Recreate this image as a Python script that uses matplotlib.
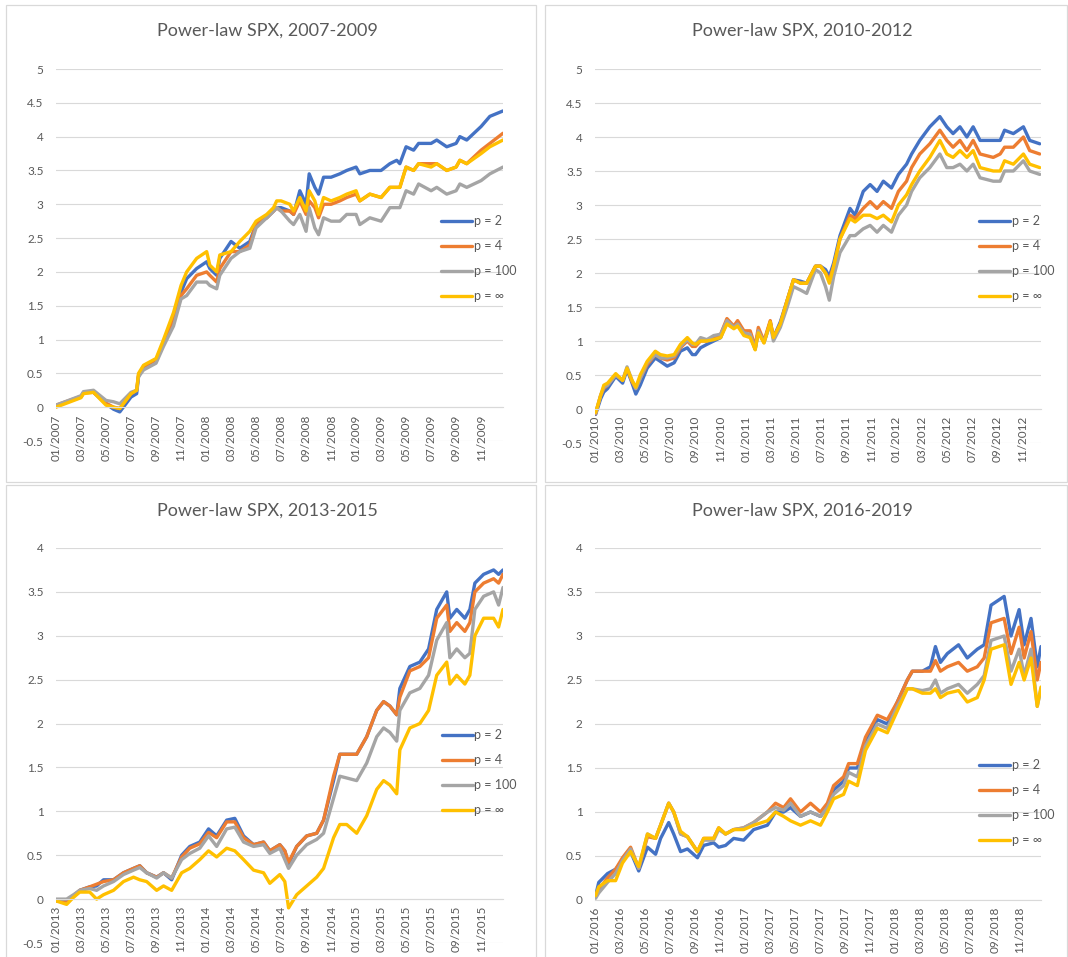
import matplotlib
matplotlib.use('Agg')
import matplotlib.pyplot as plt
from matplotlib.patches import Rectangle

plt.rcParams['font.family'] = ['Lato', 'DejaVu Sans']

# ---- data (x = months since start of period) ----
series_names = ['p = 2', 'p = 4', 'p = 100', 'p = \u221e']
series_colors = ['#4472C4', '#ED7D31', '#A5A5A5', '#FFC000']

t_0709 = [0, 2.0, 2.2, 3.0, 4.0, 4.6, 5.1, 6.0, 6.45, 6.6, 7.0, 8.0, 8.6, 9.4, 10.0, 10.45,
          11.25, 12.05, 12.3, 12.85, 13.1, 14.0, 14.7, 15.5, 16.0, 16.85, 17.4, 17.65, 18.0,
          18.7, 19.0, 19.5, 20.0, 20.25, 20.7, 21.0, 21.4, 22.0, 22.7, 23.25, 24.0, 24.3, 25.1,
          26.0, 26.7, 27.25, 27.5, 28.0, 28.6, 29.0, 30.0, 30.45, 31.25, 32.0, 32.3, 32.85,
          34.0, 34.7, 35.75]
p2_0709 = [0.02, 0.15, 0.22, 0.22, 0.05, -0.03, -0.07, 0.15, 0.2, 0.45, 0.6, 0.7, 0.95, 1.3, 1.7,
           1.9, 2.05, 2.15, 2.05, 1.95, 2.2, 2.45, 2.35, 2.45, 2.7, 2.8, 2.9, 2.95, 2.95, 2.9,
           2.85, 3.2, 3.0, 3.45, 3.25, 3.15, 3.4, 3.4, 3.45, 3.5, 3.55, 3.45, 3.5, 3.5, 3.6,
           3.65, 3.6, 3.85, 3.8, 3.9, 3.9, 3.95, 3.85, 3.9, 4.0, 3.95, 4.15, 4.3, 4.38]
p4_0709 = [0.03, 0.16, 0.21, 0.22, 0.06, 0.0, -0.02, 0.2, 0.25, 0.48, 0.6, 0.7, 0.95, 1.3, 1.65,
           1.75, 1.95, 2.0, 1.95, 1.85, 2.05, 2.3, 2.3, 2.4, 2.7, 2.8, 2.9, 2.95, 2.9, 2.9,
           2.85, 3.05, 2.85, 3.05, 2.95, 2.8, 3.0, 3.0, 3.05, 3.1, 3.15, 3.05, 3.15, 3.1, 3.25,
           3.25, 3.25, 3.55, 3.5, 3.6, 3.6, 3.6, 3.5, 3.55, 3.65, 3.6, 3.8, 3.9, 4.05]
p100_0709 = [0.03, 0.17, 0.23, 0.25, 0.1, 0.08, 0.05, 0.22, 0.25, 0.45, 0.55, 0.65, 0.9, 1.2, 1.6,
             1.65, 1.85, 1.85, 1.8, 1.75, 1.95, 2.2, 2.3, 2.35, 2.65, 2.8, 2.9, 2.95, 2.9, 2.75,
             2.7, 2.85, 2.6, 2.95, 2.65, 2.55, 2.8, 2.75, 2.75, 2.85, 2.85, 2.7, 2.8, 2.75, 2.95,
             2.95, 2.95, 3.2, 3.15, 3.3, 3.2, 3.25, 3.15, 3.2, 3.3, 3.25, 3.35, 3.45, 3.55]
pinf_0709 = [0.0, 0.14, 0.2, 0.22, 0.03, 0.0, -0.02, 0.2, 0.25, 0.5, 0.62, 0.72, 1.0, 1.4, 1.8,
             2.0, 2.2, 2.3, 2.1, 2.0, 2.25, 2.3, 2.45, 2.6, 2.75, 2.85, 2.95, 3.05, 3.05, 3.0,
             2.9, 3.1, 2.9, 3.2, 3.05, 2.85, 3.1, 3.05, 3.1, 3.15, 3.2, 3.05, 3.15, 3.1, 3.25,
             3.25, 3.25, 3.55, 3.5, 3.6, 3.55, 3.6, 3.5, 3.55, 3.65, 3.6, 3.75, 3.85, 3.95]

t_1012 = [0.05, 0.45, 0.7, 1.0, 1.65, 2.2, 2.55, 2.95, 3.25, 3.6, 4.15, 4.8, 5.2, 5.75, 6.3, 6.8,
          7.35, 7.75, 8.0, 8.4, 8.9, 9.45, 10.0, 10.5, 11.05, 11.35, 11.85, 12.35, 12.75, 13.0,
          13.45, 13.95, 14.2, 14.75, 15.3, 15.8, 16.35, 16.85, 17.55, 17.95, 18.35, 18.65, 19.0,
          19.5, 20.3, 20.7, 21.35, 21.9, 22.45, 22.95, 23.6, 24.15, 24.8, 25.2, 25.85, 26.65,
          27.45, 28.0, 28.5, 29.05, 29.6, 30.1, 30.65, 31.7, 32.25, 32.6, 33.3, 34.1, 34.6, 35.4]
p2_1012 = [-0.08, 0.15, 0.25, 0.3, 0.48, 0.38, 0.58, 0.38, 0.22, 0.35, 0.6, 0.75, 0.7, 0.63, 0.68,
           0.85, 0.9, 0.8, 0.8, 0.9, 0.95, 1.0, 1.05, 1.28, 1.2, 1.28, 1.1, 1.08, 0.88, 1.15,
           0.98, 1.28, 1.05, 1.28, 1.6, 1.9, 1.88, 1.85, 2.1, 2.1, 2.05, 1.95, 2.15, 2.55, 2.95,
           2.85, 3.2, 3.3, 3.2, 3.35, 3.25, 3.45, 3.6, 3.75, 3.95, 4.15, 4.3, 4.15, 4.05, 4.15,
           4.0, 4.15, 3.95, 3.95, 3.95, 4.1, 4.05, 4.15, 3.95, 3.9]
p4_1012 = [-0.07, 0.2, 0.3, 0.35, 0.5, 0.42, 0.6, 0.4, 0.3, 0.45, 0.65, 0.8, 0.75, 0.72, 0.75,
           0.9, 1.0, 0.92, 0.92, 1.0, 1.0, 1.05, 1.1, 1.33, 1.22, 1.3, 1.15, 1.15, 0.92, 1.2,
           1.0, 1.3, 1.05, 1.25, 1.6, 1.9, 1.85, 1.85, 2.1, 2.1, 2.0, 1.9, 2.1, 2.5, 2.85, 2.8,
           2.95, 3.05, 2.95, 3.05, 2.95, 3.2, 3.35, 3.55, 3.75, 3.9, 4.1, 3.95, 3.85, 3.95, 3.8,
           3.95, 3.75, 3.7, 3.75, 3.85, 3.85, 4.0, 3.8, 3.75]
p100_1012 = [-0.06, 0.2, 0.32, 0.35, 0.5, 0.42, 0.62, 0.42, 0.3, 0.45, 0.68, 0.8, 0.75, 0.75,
             0.78, 0.92, 1.02, 0.95, 0.95, 1.05, 1.02, 1.08, 1.1, 1.3, 1.2, 1.25, 1.12, 1.1, 0.88,
             1.15, 0.98, 1.25, 1.0, 1.2, 1.5, 1.8, 1.75, 1.7, 2.05, 2.0, 1.8, 1.6, 1.95, 2.3, 2.55,
             2.55, 2.65, 2.7, 2.6, 2.7, 2.6, 2.85, 3.0, 3.2, 3.4, 3.55, 3.75, 3.55, 3.55, 3.6, 3.5,
             3.6, 3.4, 3.35, 3.35, 3.5, 3.5, 3.65, 3.5, 3.45]
pinf_1012 = [-0.05, 0.2, 0.35, 0.38, 0.52, 0.42, 0.6, 0.42, 0.32, 0.5, 0.7, 0.85, 0.8, 0.78, 0.8,
             0.95, 1.05, 0.97, 0.95, 1.0, 1.0, 1.02, 1.05, 1.25, 1.18, 1.22, 1.08, 1.05, 0.87,
             1.12, 0.97, 1.28, 1.05, 1.25, 1.6, 1.9, 1.85, 1.85, 2.1, 2.1, 2.0, 1.85, 2.1, 2.5,
             2.8, 2.75, 2.85, 2.85, 2.8, 2.85, 2.75, 3.0, 3.15, 3.3, 3.5, 3.7, 3.95, 3.75, 3.7,
             3.8, 3.7, 3.8, 3.55, 3.5, 3.5, 3.65, 3.6, 3.75, 3.6, 3.55]

t_1315 = [0, 0.85, 1.4, 1.9, 2.7, 3.25, 3.8, 4.6, 5.4, 6.2, 6.7, 7.25, 8.05, 8.6, 9.25, 10.05,
          10.7, 11.5, 12.2, 12.85, 13.65, 14.3, 15.0, 15.8, 16.6, 17.1, 17.9, 18.3, 18.6, 19.25,
          20.05, 20.85, 21.4, 22.2, 22.7, 23.25, 24.05, 24.85, 25.65, 26.2, 26.7, 27.25, 27.5,
          28.3, 29.1, 29.8, 30.45, 31.25, 31.5, 32.05, 32.7, 33.1, 33.5, 34.2, 35.0, 35.4, 35.75]
p2_1315 = [-0.02, -0.02, 0.03, 0.1, 0.14, 0.15, 0.22, 0.22, 0.3, 0.35, 0.38, 0.3, 0.25, 0.3, 0.22,
           0.5, 0.6, 0.65, 0.8, 0.72, 0.9, 0.92, 0.72, 0.62, 0.65, 0.55, 0.62, 0.55, 0.4, 0.6,
           0.72, 0.75, 0.9, 1.35, 1.65, 1.65, 1.65, 1.85, 2.15, 2.25, 2.2, 2.1, 2.4, 2.65, 2.7,
           2.85, 3.3, 3.5, 3.2, 3.3, 3.2, 3.3, 3.6, 3.7, 3.75, 3.7, 3.75]
p4_1315 = [-0.02, -0.02, 0.04, 0.1, 0.14, 0.17, 0.2, 0.22, 0.3, 0.35, 0.38, 0.3, 0.25, 0.3, 0.24,
           0.48, 0.58, 0.63, 0.76, 0.7, 0.88, 0.88, 0.7, 0.62, 0.65, 0.55, 0.62, 0.55, 0.42, 0.6,
           0.72, 0.75, 0.9, 1.4, 1.65, 1.65, 1.65, 1.85, 2.15, 2.25, 2.2, 2.1, 2.3, 2.6, 2.65,
           2.75, 3.2, 3.35, 3.05, 3.15, 3.05, 3.15, 3.5, 3.6, 3.65, 3.6, 3.7]
p100_1315 = [0.0, 0.0, 0.05, 0.1, 0.12, 0.1, 0.15, 0.2, 0.28, 0.33, 0.36, 0.3, 0.24, 0.3, 0.24,
             0.45, 0.52, 0.58, 0.72, 0.6, 0.8, 0.82, 0.65, 0.6, 0.62, 0.52, 0.58, 0.45, 0.35, 0.5,
             0.62, 0.68, 0.75, 1.15, 1.4, 1.38, 1.35, 1.55, 1.85, 1.95, 1.9, 1.8, 2.15, 2.35, 2.4,
             2.55, 2.95, 3.15, 2.75, 2.85, 2.75, 2.8, 3.3, 3.45, 3.5, 3.35, 3.55]
pinf_1315 = [-0.02, -0.06, 0.02, 0.08, 0.08, 0.0, 0.05, 0.1, 0.2, 0.25, 0.22, 0.2, 0.1, 0.15, 0.1,
             0.3, 0.35, 0.45, 0.55, 0.48, 0.58, 0.55, 0.45, 0.33, 0.3, 0.18, 0.28, 0.2, -0.1, 0.05,
             0.15, 0.25, 0.35, 0.7, 0.85, 0.85, 0.75, 0.95, 1.25, 1.35, 1.3, 1.2, 1.7, 1.95, 2.0,
             2.15, 2.55, 2.7, 2.45, 2.55, 2.45, 2.55, 3.0, 3.2, 3.2, 3.1, 3.3]

t_1618 = [0.05, 0.3, 1.0, 1.65, 2.2, 2.85, 3.5, 4.2, 4.85, 5.25, 5.9, 6.3, 6.85, 7.4, 8.2, 8.7,
          9.5, 9.9, 10.45, 11.1, 11.9, 12.7, 13.8, 14.45, 15.1, 15.65, 16.45, 17.25, 18.05, 18.6,
          19.1, 19.9, 20.3, 21.0, 21.65, 22.6, 23.4, 24.2, 25.0, 25.4, 26.2, 26.85, 27.25, 27.65,
          28.2, 29.1, 29.8, 30.6, 31.15, 31.7, 32.75, 33.3, 33.95, 34.35, 34.9, 35.4, 35.7]
p2_1618 = [0.05, 0.2, 0.3, 0.35, 0.45, 0.55, 0.33, 0.6, 0.52, 0.7, 0.88, 0.75, 0.55, 0.58, 0.48,
           0.62, 0.65, 0.6, 0.62, 0.7, 0.68, 0.8, 0.85, 1.0, 1.0, 1.05, 0.95, 1.0, 0.95, 1.05,
           1.25, 1.35, 1.5, 1.5, 1.8, 2.05, 2.0, 2.25, 2.5, 2.6, 2.6, 2.65, 2.88, 2.7, 2.8, 2.9,
           2.75, 2.85, 2.9, 3.35, 3.45, 3.0, 3.3, 2.9, 3.2, 2.65, 2.88]
p4_1618 = [0.05, 0.12, 0.25, 0.35, 0.48, 0.6, 0.36, 0.72, 0.7, 0.85, 1.1, 1.0, 0.75, 0.72, 0.55,
           0.7, 0.7, 0.82, 0.75, 0.8, 0.82, 0.88, 1.0, 1.1, 1.05, 1.15, 1.0, 1.1, 1.0, 1.1, 1.3,
           1.4, 1.55, 1.55, 1.85, 2.1, 2.05, 2.25, 2.5, 2.6, 2.6, 2.6, 2.72, 2.6, 2.65, 2.7, 2.6,
           2.65, 2.75, 3.15, 3.2, 2.8, 3.1, 2.75, 3.05, 2.5, 2.7]
p100_1618 = [0.02, 0.08, 0.2, 0.3, 0.45, 0.58, 0.36, 0.75, 0.7, 0.85, 1.1, 1.0, 0.75, 0.72, 0.55,
             0.68, 0.68, 0.8, 0.75, 0.8, 0.82, 0.88, 1.0, 1.05, 1.02, 1.1, 0.95, 1.0, 0.95, 1.05,
             1.2, 1.3, 1.45, 1.4, 1.75, 2.0, 1.95, 2.2, 2.4, 2.4, 2.38, 2.4, 2.5, 2.35, 2.4, 2.45,
             2.35, 2.45, 2.55, 2.95, 3.0, 2.6, 2.85, 2.55, 2.85, 2.2, 2.4]
pinf_1618 = [0.05, 0.15, 0.22, 0.22, 0.42, 0.55, 0.38, 0.75, 0.7, 0.85, 1.1, 1.0, 0.78, 0.72,
             0.55, 0.7, 0.7, 0.82, 0.75, 0.8, 0.8, 0.85, 0.9, 1.0, 0.95, 0.9, 0.85, 0.9, 0.85, 1.0,
             1.15, 1.2, 1.35, 1.3, 1.7, 1.95, 1.9, 2.15, 2.4, 2.4, 2.35, 2.35, 2.4, 2.3, 2.35,
             2.38, 2.25, 2.3, 2.5, 2.85, 2.9, 2.45, 2.7, 2.5, 2.75, 2.2, 2.42]

panels = [
    ('Power-law SPX, 2007-2009', 2007, t_0709, [p2_0709, p4_0709, p100_0709, pinf_0709], (-0.5, 5)),
    ('Power-law SPX, 2010-2012', 2010, t_1012, [p2_1012, p4_1012, p100_1012, pinf_1012], (-0.5, 5)),
    ('Power-law SPX, 2013-2015', 2013, t_1315, [p2_1315, p4_1315, p100_1315, pinf_1315], (-0.5, 4)),
    ('Power-law SPX, 2016-2019', 2016, t_1618, [p2_1618, p4_1618, p100_1618, pinf_1618], (0, 4)),
]

# pixel boxes: frame (left, top, right, bottom), axes (left, top, right, bottom), x end, legend top-left
W, H = 1068, 957
frames = [(6, 5, 536, 482), (545, 5, 1067, 482), (6, 485, 536, 960), (545, 485, 1067, 960)]
axboxes = [(56, 69, 503, 441), (595, 69, 1041, 443), (56, 548, 503, 943), (595, 548, 1041, 900)]
xends = [35.75, 35.5, 35.75, 35.7]
legpos = [(441, 215), (979, 215), (442, 729), (979, 759)]

grey = '#595959'
fig = plt.figure(figsize=(W / 100, H / 100), dpi=100)

for i, (title, year0, t, ys, ylim) in enumerate(panels):
    fl, ft, fr, fb = frames[i]
    fig.add_artist(Rectangle((fl / W, 1 - fb / H), (fr - fl) / W, (fb - ft) / H,
                             transform=fig.transFigure, fill=False, edgecolor='#D9D9D9', lw=0.9))
    # chart title, centred on the chart frame like Excel does
    fig.text(((fl + fr) / 2 - 4) / W, 1 - (ft + 31) / H, title, fontsize=13, color=grey,
             ha='center', va='baseline')
    al, at, ar, ab = axboxes[i]
    ax = fig.add_axes([al / W, 1 - ab / H, (ar - al) / W, (ab - at) / H])
    for y, name, c in zip(ys, series_names, series_colors):
        ax.plot(t, y, color=c, lw=2.4, label=name, solid_capstyle='round')
    ax.set_xlim(0, xends[i])
    ax.set_ylim(*ylim)
    step = 0.5
    yt = [ylim[0] + k * step for k in range(int(round((ylim[1] - ylim[0]) / step)) + 1)]
    ax.set_yticks(yt)
    ax.set_yticklabels([f'{v:g}' for v in yt])
    months = list(range(0, 36, 2))
    ax.set_xticks(months)
    ax.set_xticklabels([f'{m % 12 + 1:02d}/{year0 + m // 12}' for m in months])
    ax.grid(axis='y', color='#D9D9D9', lw=0.8)
    ax.set_axisbelow(True)
    for s in ['top', 'right', 'left']:
        ax.spines[s].set_visible(False)
    ax.spines['bottom'].set_position(('data', 0))
    ax.spines['bottom'].set_color('#D9D9D9')
    ax.spines['bottom'].set_linewidth(0.8)
    ax.tick_params(axis='both', length=0, colors=grey, labelsize=8.5)
    ax.tick_params(axis='y', pad=9)
    ax.tick_params(axis='x', pad=5, labelrotation=90)
    ax.set_facecolor('none')
    lx, ly = legpos[i]
    ax.legend(loc='upper left', bbox_to_anchor=(lx / W, 1 - ly / H), bbox_transform=fig.transFigure,
              frameon=False, fontsize=9, labelcolor=grey, handlelength=2.45, handletextpad=0.15,
              labelspacing=1.05, borderpad=0, borderaxespad=0)

fig.savefig('out.png', dpi=100)
